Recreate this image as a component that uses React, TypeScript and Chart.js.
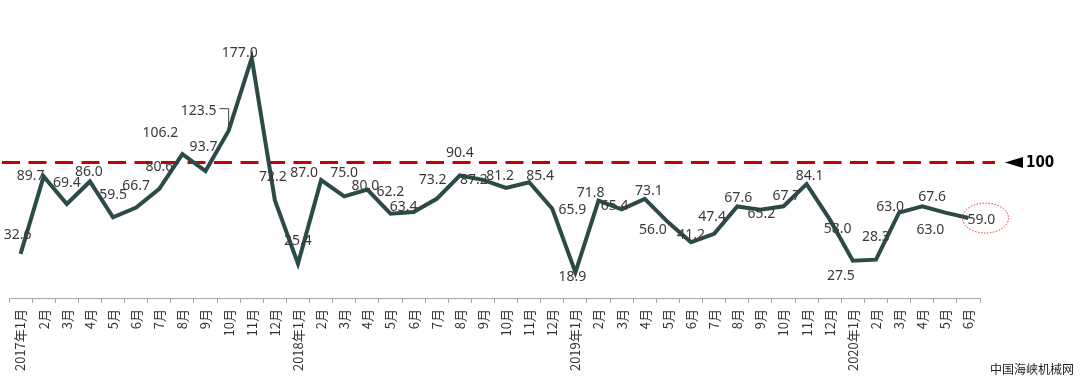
import React, { useEffect, useRef } from 'react';
import { Chart, registerables } from 'chart.js';

Chart.register(...registerables);

const categories: string[] = [
  '2017年1月', '2月', '3月', '4月', '5月', '6月', '7月', '8月', '9月', '10月', '11月', '12月',
  '2018年1月', '2月', '3月', '4月', '5月', '6月', '7月', '8月', '9月', '10月', '11月', '12月',
  '2019年1月', '2月', '3月', '4月', '5月', '6月', '7月', '8月', '9月', '10月', '11月', '12月',
  '2020年1月', '2月', '3月', '4月', '5月', '6月',
];

const values: number[] = [
  32.6, 89.7, 69.4, 86.0, 59.5, 66.7, 80.6, 106.2, 93.7, 123.5, 177.0, 72.2,
  25.4, 87.0, 75.0, 80.0, 62.2, 63.4, 73.2, 90.4, 87.2, 81.2, 85.4, 65.9,
  18.9, 71.8, 65.4, 73.1, 56.0, 41.2, 47.4, 67.6, 65.2, 67.7, 84.1, 58.0,
  27.5, 28.3, 63.0, 67.6, 63.0, 59.0,
];

const referenceValue = 100;
const referenceLabel = '100';
const watermark = '中国海峡机械网';

// label placement relative to each point (style only)
const labelOffsets: [number, number][] = [
  [-3, -19], [-13, 0], [0, -21], [-1, -9], [0, -22], [0, -22], [0, -22], [-22, -21], [-2, -24], [-30, -20], [-12, -5], [-2, -23],
  [0, -23], [-17, -7], [0, -23], [-2, -4], [0, -22], [-10, -5], [-4, -19], [0, -22], [-9, 0], [-6, -12], [11, -6], [20, 1],
  [-3, 5], [-8, -8], [-7, -3], [4, -8], [-15, 8], [0, -7], [-2, -17], [1, -8], [1, 4], [3, -10], [3, -8], [8, 10],
  [-12, 15], [0, -23], [-9, -6], [10, -9], [-15, 17], [13, 2],
];
const leaderIndex = 9;
const circledIndex = 41;

const annotPlugin = {
  id: 'annot',
  beforeDatasetsDraw(chart: any) {
    const ctx = chart.ctx;
    const y = chart.scales.y.getPixelForValue(referenceValue);
    ctx.save();
    ctx.strokeStyle = '#c80000';
    ctx.lineWidth = 3;
    ctx.setLineDash([18, 8.5]);
    ctx.beginPath();
    ctx.moveTo(2, y);
    ctx.lineTo(995, y);
    ctx.stroke();
    ctx.setLineDash([]);
    ctx.fillStyle = '#000';
    ctx.beginPath();
    ctx.moveTo(1005, y);
    ctx.lineTo(1023, y - 5.5);
    ctx.lineTo(1023, y + 5.5);
    ctx.closePath();
    ctx.fill();
    ctx.font = 'bold 15px "DejaVu Sans Condensed", "DejaVu Sans"';
    ctx.textAlign = 'left';
    ctx.textBaseline = 'middle';
    ctx.fillText(referenceLabel, 1026, y + 0.5);
    ctx.restore();
  },
  afterDatasetsDraw(chart: any) {
    const ctx = chart.ctx;
    const meta = chart.getDatasetMeta(0);
    ctx.save();
    ctx.font = '14px "Noto Sans", "DejaVu Sans", sans-serif';
    ctx.fillStyle = '#3a3a3a';
    ctx.textAlign = 'center';
    ctx.textBaseline = 'middle';
    meta.data.forEach((pt: any, i: number) => {
      const [dx, dy] = labelOffsets[i] || [0, -20];
      const txt = values[i].toFixed(1);
      const lx = pt.x + dx;
      const ly = pt.y + dy;
      ctx.fillText(txt, lx, ly);
      if (i === leaderIndex) {
        const w = ctx.measureText(txt).width;
        ctx.save();
        ctx.strokeStyle = '#404040';
        ctx.lineWidth = 1;
        ctx.beginPath();
        ctx.moveTo(lx + w / 2 + 3, ly - 2);
        ctx.lineTo(pt.x, ly - 2);
        ctx.lineTo(pt.x, pt.y - 3);
        ctx.stroke();
        ctx.restore();
      }
      if (i === circledIndex) {
        ctx.save();
        ctx.strokeStyle = '#e03030';
        ctx.lineWidth = 1;
        ctx.setLineDash([1.5, 1.5]);
        ctx.beginPath();
        ctx.ellipse(lx + 4, ly - 2, 23, 15, 0, 0, Math.PI * 2);
        ctx.stroke();
        ctx.restore();
      }
    });
    ctx.restore();
  },
  afterDraw(chart: any) {
    const ctx = chart.ctx;
    ctx.save();
    ctx.font = '12px "Noto Sans CJK SC", sans-serif';
    ctx.fillStyle = '#222';
    ctx.textAlign = 'right';
    ctx.textBaseline = 'middle';
    ctx.fillText(watermark, 1074, 369);
    ctx.restore();
  },
};

export default function App() {
  const ref = useRef<HTMLCanvasElement | null>(null);
  useEffect(() => {
    document.body.style.margin = '0';
    if (!ref.current) return;
    const chart = new Chart(ref.current, {
      type: 'line',
      data: {
        labels: categories,
        datasets: [
          {
            data: values,
            borderColor: '#2a4b47',
            borderWidth: 4,
            pointRadius: 0,
            pointHoverRadius: 0,
            tension: 0,
            fill: false,
          },
        ],
      },
      options: {
        animation: false,
        responsive: false,
        devicePixelRatio: 1,
        layout: { padding: { left: 9, right: 100, top: 27, bottom: 0 } },
        plugins: { legend: { display: false }, tooltip: { enabled: false } },
        scales: {
          x: {
            offset: true,
            grid: {
              display: true,
              drawOnChartArea: false,
              drawTicks: true,
              tickLength: 5,
              color: '#a6a6a6',
              offset: true,
            },
            border: { display: true, color: '#a6a6a6', width: 1 },
            ticks: {
              autoSkip: false,
              maxRotation: 90,
              minRotation: 90,
              padding: 6,
              color: '#333',
              font: { size: 13, family: '"Noto Sans CJK SC", sans-serif' },
            },
            afterFit: (s: any) => {
              s.height = 80;
            },
          },
          y: { display: false, min: 0, max: 200 },
        },
      },
      plugins: [annotPlugin],
    });
    return () => chart.destroy();
  }, []);
  return (
    <div style={{ width: 1080, height: 378, position: 'relative', background: '#fff' }}>
      <canvas ref={ref} width={1080} height={378} style={{ display: 'block' }} />
    </div>
  );
}
